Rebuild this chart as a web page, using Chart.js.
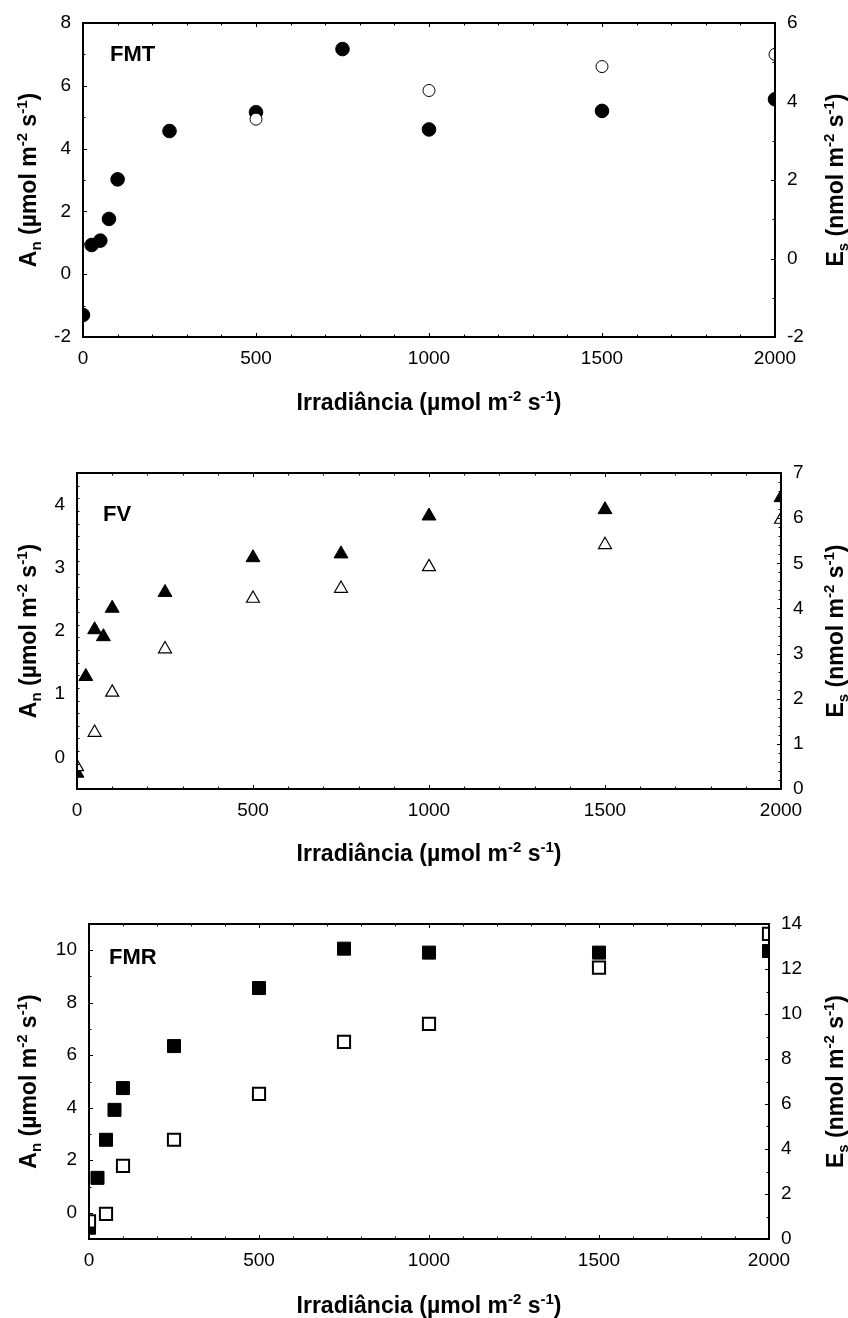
<!DOCTYPE html>
<html>
<head>
<meta charset="utf-8">
<script src="https://cdn.jsdelivr.net/npm/chart.js@4.4.1/dist/chart.umd.min.js"></script>
<style>
    html, body { margin: 0; padding: 0; background: #fff; }
    #wrap { position: relative; width: 848px; height: 1318px; }
    canvas { position: absolute; left: 0; }
</style>
</head>
<body>
<div id="wrap">
    <canvas id="c1" width="848" height="420" style="top:0px"></canvas>
    <canvas id="c2" width="848" height="460" style="top:420px"></canvas>
    <canvas id="c3" width="848" height="438" style="top:880px"></canvas>
</div>
<script>
// irradiance levels (x) used by the series
const irradiance = [0, 25, 50, 75, 100, 250, 500, 750, 1000, 1500, 2000];
const esIrradiance = [0, 50, 100, 250, 500, 750, 1000, 1500, 2000];
const fmtEsIrradiance = [500, 1000, 1500, 2000];

// FMT - An (filled circles) and Es (open circles)
const fmtAn = [-1.3, 0.93, 1.07, 1.76, 3.02, 4.56, 5.16, 7.17, 4.61, 5.2, 5.57];
const fmtEs = [3.55, 4.28, 4.89, 5.2];

// FV - An (filled triangles) and Es (open triangles)
const fvAn = [-0.25, 1.28, 2.02, 1.91, 2.36, 2.61, 3.16, 3.22, 3.82, 3.92, 4.11];
const fvEs = [0.49, 1.25, 2.14, 3.1, 4.22, 4.44, 4.92, 5.41, 5.97];

// FMR - An (filled squares) and Es (open squares)
const fmrAn = [-0.57, 1.33, 2.78, 3.92, 4.75, 6.35, 8.56, 10.06, 9.91, 9.91, 9.97];
const fmrEs = [0.78, 1.12, 3.25, 4.41, 6.45, 8.76, 9.56, 12.06, 13.56];

// tick labels
const xTicks = [0, 500, 1000, 1500, 2000];
const fmtAnTicks = [-2, 0, 2, 4, 6, 8];
const fmtEsTicks = [-2, 0, 2, 4, 6];
const fvAnTicks = [0, 1, 2, 3, 4];
const fvEsTicks = [0, 1, 2, 3, 4, 5, 6, 7];
const fmrAnTicks = [0, 2, 4, 6, 8, 10];
const fmrEsTicks = [0, 2, 4, 6, 8, 10, 12, 14];

const FONT = '"Liberation Sans", Arial, sans-serif';

const anTitle = [['A', 0], ['n', 1], [' (µmol m', 0], ['-2', 2], [' s', 0], ['-1', 2], [')', 0]];
const esTitle = [['E', 0], ['s', 1], [' (nmol m', 0], ['-2', 2], [' s', 0], ['-1', 2], [')', 0]];
const xTitle = [['Irradiância (µmol m', 0], ['-2', 2], [' s', 0], ['-1', 2], [')', 0]];

function pts(xs, ys) {
    return ys.map((y, i) => ({ x: xs[i], y: y }));
}

// text with sub/superscripts, centred on (x, y)
function drawRich(ctx, parts, x, y, angle) {
    const big = 'bold 23px ' + FONT;
    const small = 'bold 15px ' + FONT;
    ctx.save();
    ctx.translate(x, y);
    ctx.rotate(angle);
    let w = 0;
    parts.forEach(p => { ctx.font = p[1] ? small : big; w += ctx.measureText(p[0]).width; });
    let cx = -w / 2;
    ctx.fillStyle = '#000';
    ctx.textAlign = 'left';
    ctx.textBaseline = 'alphabetic';
    parts.forEach(p => {
        ctx.font = p[1] ? small : big;
        const dy = p[1] === 1 ? 5 : (p[1] === 2 ? -9 : 0);
        ctx.fillText(p[0], cx, 8 + dy);
        cx += ctx.measureText(p[0]).width;
    });
    ctx.restore();
}

// frame, inward ticks, axis titles and panel label
const framePlugin = {
    id: 'frame',
    afterDraw(chart, args, opts) {
        const ctx = chart.ctx;
        const a = chart.chartArea;
        const sx = chart.scales.x, sl = chart.scales.yL, sr = chart.scales.yR;
        ctx.save();
        ctx.strokeStyle = '#000';
        ctx.lineWidth = 1;
        const tick = (scale, step, major, draw) => {
            for (let v = scale.min; v <= scale.max + 1e-9; v += step) {
                const isMajor = Math.abs(v / major - Math.round(v / major)) < 1e-6;
                draw(Math.round(scale.getPixelForValue(v)) + 0.5, isMajor ? 4 : 2.5);
            }
        };
        ctx.beginPath();
        tick(sx, opts.minor[0], 500, (p, l) => {
            ctx.moveTo(p, a.bottom); ctx.lineTo(p, a.bottom - l);
            ctx.moveTo(p, a.top); ctx.lineTo(p, a.top + l);
        });
        tick(sl, opts.minor[1], opts.major[1], (p, l) => {
            ctx.moveTo(a.left, p); ctx.lineTo(a.left + l, p);
        });
        tick(sr, opts.minor[2], opts.major[2], (p, l) => {
            ctx.moveTo(a.right, p); ctx.lineTo(a.right - l, p);
        });
        ctx.stroke();
        ctx.lineWidth = 2;
        ctx.strokeRect(a.left, a.top, a.right - a.left, a.bottom - a.top);

        ctx.fillStyle = '#000';
        ctx.font = 'bold 22px ' + FONT;
        ctx.textBaseline = 'middle';
        ctx.textAlign = 'left';
        ctx.fillText(opts.label, opts.labelPos[0], opts.labelPos[1]);
        ctx.restore();

        const midY = (a.top + a.bottom) / 2;
        drawRich(ctx, anTitle, 28, midY, -Math.PI / 2);
        drawRich(ctx, esTitle, 835, midY, -Math.PI / 2);
        drawRich(ctx, xTitle, (a.left + a.right) / 2, opts.xTitleY, 0);
    }
};

function yAxis(pos, min, max, ticks, width) {
    return {
        type: 'linear',
        position: pos,
        min: min,
        max: max,
        grid: { display: false, drawTicks: false },
        border: { display: false },
        afterBuildTicks: s => { s.ticks = ticks.map(v => ({ value: v })); },
        afterFit: s => { s.width = width; s.paddingTop = 0; s.paddingBottom = 0; },
        ticks: {
            color: '#000', padding: 12,
            font: { family: FONT, size: 19 },
            callback: v => String(v)
        }
    };
}

function makePanel(id, p) {
    return new Chart(document.getElementById(id), {
        type: 'scatter',
        data: {
            datasets: [
                {
                    data: p.open,
                    yAxisID: 'yR',
                    pointStyle: p.style,
                    pointRadius: p.openR,
                    backgroundColor: '#fff',
                    borderColor: '#000',
                    borderWidth: p.openW
                },
                {
                    data: p.filled,
                    yAxisID: 'yL',
                    pointStyle: p.style,
                    pointRadius: p.fillR,
                    backgroundColor: '#000',
                    borderColor: '#000',
                    borderWidth: 1
                }
            ]
        },
        options: {
            responsive: false,
            animation: false,
            events: [],
            layout: { padding: { top: p.top, left: 0, right: 0, bottom: 0 } },
            plugins: {
                legend: { display: false },
                tooltip: { enabled: false },
                frame: {
                    label: p.label,
                    labelPos: p.labelPos,
                    xTitleY: p.xTitleY,
                    minor: p.minor,
                    major: p.major
                }
            },
            scales: {
                x: {
                    type: 'linear',
                    position: 'bottom',
                    min: 0,
                    max: 2000,
                    grid: { display: false, drawTicks: false },
                    border: { display: false },
                    afterBuildTicks: s => { s.ticks = xTicks.map(v => ({ value: v })); },
                    afterFit: s => { s.height = p.xHeight; s.paddingLeft = 0; s.paddingRight = 0; },
                    ticks: {
                        color: '#000', padding: 10, maxRotation: 0,
                        font: { family: FONT, size: 19 },
                        callback: v => String(v)
                    }
                },
                yL: yAxis('left', p.yL[0], p.yL[1], p.yLTicks, p.leftW),
                yR: yAxis('right', p.yR[0], p.yR[1], p.yRTicks, p.rightW)
            }
        },
        plugins: [framePlugin]
    });
}

makePanel('c1', {
    label: 'FMT', labelPos: [110, 55], xTitleY: 402,
    top: 23, xHeight: 83, leftW: 83, rightW: 73,
    yL: [-2, 8], yR: [-2, 6], yLTicks: fmtAnTicks, yRTicks: fmtEsTicks,
    minor: [100, 1, 1], major: [500, 2, 2],
    style: 'circle', fillR: 6.8, openR: 6, openW: 1,
    filled: pts(irradiance, fmtAn), open: pts(fmtEsIrradiance, fmtEs)
});

makePanel('c2', {
    label: 'FV', labelPos: [103, 95], xTitleY: 433,
    top: 53, xHeight: 91, leftW: 77, rightW: 67,
    yL: [-0.5, 4.5], yR: [0, 7], yLTicks: fvAnTicks, yRTicks: fvEsTicks,
    minor: [100, 0.2, 0.2], major: [500, 1, 1],
    style: 'triangle', fillR: 8, openR: 7.5, openW: 1.2,
    filled: pts(irradiance, fvAn), open: pts(esIrradiance, fvEs)
});

makePanel('c3', {
    label: 'FMR', labelPos: [109, 78], xTitleY: 425,
    top: 44, xHeight: 79, leftW: 89, rightW: 79,
    yL: [-1, 11], yR: [0, 14], yLTicks: fmrAnTicks, yRTicks: fmrEsTicks,
    minor: [100, 1, 1], major: [500, 2, 2],
    style: 'rect', fillR: 9.2, openR: 8.6, openW: 2,
    filled: pts(irradiance, fmrAn), open: pts(esIrradiance, fmrEs)
});
</script>
</body>
</html>
